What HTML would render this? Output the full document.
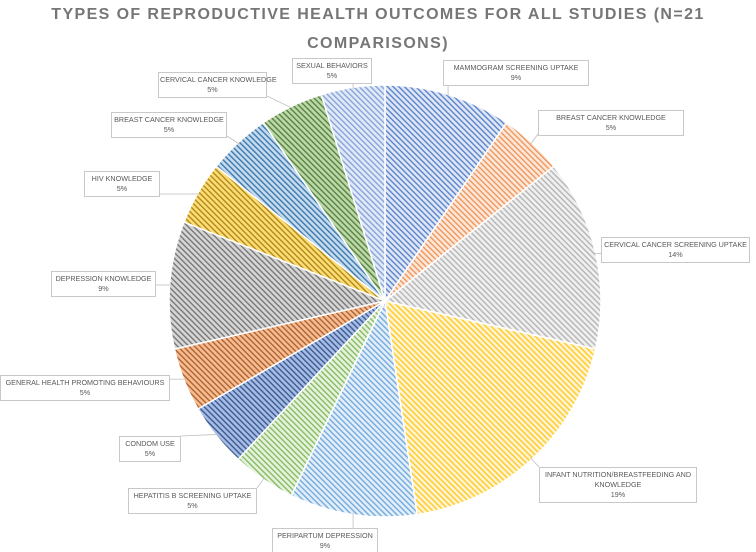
<!DOCTYPE html>
<html><head><meta charset="utf-8"><style>
body{margin:0;background:#fff;font-family:"Liberation Sans",sans-serif;}
#wrap{position:relative;width:756px;height:552px;overflow:hidden;}
#title{position:absolute;left:0;top:0px;width:756px;text-align:center;font-weight:bold;font-size:16px;letter-spacing:1.4px;color:#767676;line-height:29px;}
.lbl{position:absolute;border:1px solid #c8c8c8;background:#fff;font-size:7.2px;color:#595959;text-align:center;line-height:10px;padding:2px 1px;box-sizing:border-box;white-space:nowrap;}
svg{position:absolute;left:0;top:0;}
</style></head><body>
<div id="wrap">
<div id="title">TYPES OF REPRODUCTIVE HEALTH OUTCOMES FOR ALL STUDIES (N=21<br>COMPARISONS)</div>
<svg id="pie" width="756" height="552"><defs id="defs"></defs></svg>
</div>
<script>
const categories=["MAMMOGRAM SCREENING UPTAKE","BREAST CANCER KNOWLEDGE","CERVICAL CANCER SCREENING UPTAKE","INFANT NUTRITION/BREASTFEEDING AND KNOWLEDGE","PERIPARTUM DEPRESSION","HEPATITIS B SCREENING UPTAKE","CONDOM USE","GENERAL HEALTH PROMOTING BEHAVIOURS","DEPRESSION KNOWLEDGE","HIV KNOWLEDGE","BREAST CANCER KNOWLEDGE","CERVICAL CANCER KNOWLEDGE","SEXUAL BEHAVIORS"];
const counts=[2,1,3,4,2,1,1,1,2,1,1,1,1];
const percentLabels=["9%","5%","14%","19%","9%","5%","5%","5%","9%","5%","5%","5%","5%"];
const stripeColors=["#5b83cc","#f0955a","#b5b5b5","#ffc926","#74aadc","#86bb62","#3a5a93","#b0622d","#777777","#ad8a1f","#3f78ab","#5a8043","#86a4da"];
const bgColors=["#dfe7f5","#fce8da","#f0f0f0","#fff4d2","#e2eef9","#e6f2de","#a7bde3","#f6bc94","#d6d6d6","#ffdd73","#c4dbf0","#bcd9a8","#e2e9f7"];
const labelBoxes=[[443,60,146],[538,110,146],[601,237,149],[539,467,158],[272,528,106],[128,488,129],[119,436,62],[0,375,170],[51,271,105],[84,171,76],[111,112,116],[158,72,109],[292,58,80]];
const cx=385,cy=301,r=216;
const svg=document.getElementById('pie');const defs=document.getElementById('defs');
const NS="http://www.w3.org/2000/svg";
const total=counts.reduce((a,b)=>a+b,0);
let a0=0;
counts.forEach((c,i)=>{
 const p=document.createElementNS(NS,'pattern');
 p.setAttribute('id','pt'+i);p.setAttribute('width','4');p.setAttribute('height','4');
 p.setAttribute('patternUnits','userSpaceOnUse');p.setAttribute('patternTransform','rotate(-45)');
 p.innerHTML=`<rect width="4" height="4" fill="${bgColors[i]}"/><rect width="1.4" height="4" fill="${stripeColors[i]}"/>`;
 defs.appendChild(p);
 const a1=a0+c/total*2*Math.PI;
 const x0=cx+r*Math.sin(a0),y0=cy-r*Math.cos(a0),x1=cx+r*Math.sin(a1),y1=cy-r*Math.cos(a1);
 const path=document.createElementNS(NS,'path');
 path.setAttribute('d',`M${cx},${cy}L${x0},${y0}A${r},${r} 0 ${(a1-a0)>Math.PI?1:0} 1 ${x1},${y1}Z`);
 path.setAttribute('fill',`url(#pt${i})`);path.setAttribute('stroke','#fff');path.setAttribute('stroke-width','1.5');
 
 
 svg.appendChild(path);
 const am=(a0+a1)/2;
 const ex=cx+(r-2)*Math.sin(am),ey=cy-(r-2)*Math.cos(am);
 const b=labelBoxes[i];
 const bx=Math.min(Math.max(ex,b[0]),b[0]+b[2]),by=Math.min(Math.max(ey,b[1]),b[1]+24);
 const ln=document.createElementNS(NS,'line');
 ln.setAttribute('x1',ex);ln.setAttribute('y1',ey);ln.setAttribute('x2',bx);ln.setAttribute('y2',by);
 ln.setAttribute('stroke','#bfbfbf');ln.setAttribute('stroke-width','0.8');
 
 
 svg.appendChild(ln);
 const d=document.createElement('div');d.className='lbl';
 d.style.left=b[0]+'px';d.style.top=b[1]+'px';d.style.width=b[2]+'px';
 let t=categories[i];
 if(i===3)t="INFANT NUTRITION/BREASTFEEDING AND<br>KNOWLEDGE";
 d.innerHTML=t+'<br>'+percentLabels[i];
 
 
 document.getElementById('wrap').appendChild(d);
 a0=a1;
});
</script>
</body></html>
